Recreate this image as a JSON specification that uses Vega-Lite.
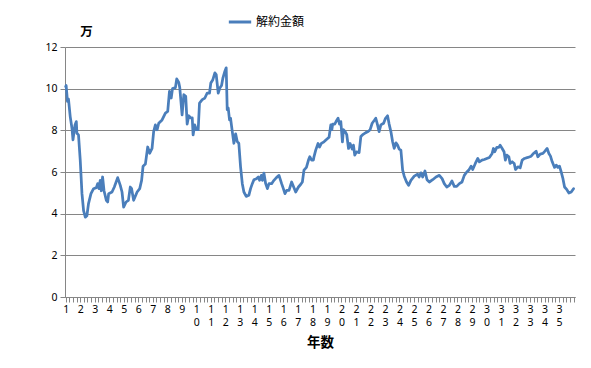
{
  "$schema": "https://vega.github.io/schema/vega-lite/v6.json",
  "width": 510,
  "height": 250,
  "autosize": "none",
  "padding": {"left": 65, "top": 47, "right": 16, "bottom": 71},
  "background": "#ffffff",
  "config": {
    "view": {"stroke": null},
    "axis": {"labelFont": "Noto Sans", "labelFontSize": 10.5, "labelColor": "#000000", "titleFont": "Noto Sans CJK JP", "titleFontWeight": "bold", "titleColor": "#000000"},
    "legend": {"labelFont": "Noto Sans CJK JP", "labelFontSize": 12, "labelColor": "#000000", "padding": 0}
  },
  "data": {"values": [
    {"year": 1.00, "value": 10.1}, {"year": 1.03, "value": 10.15}, {"year": 1.12, "value": 9.39}, {"year": 1.19, "value": 9.5},
    {"year": 1.31, "value": 8.66}, {"year": 1.43, "value": 8.1}, {"year": 1.50, "value": 7.54}, {"year": 1.64, "value": 8.26},
    {"year": 1.73, "value": 8.42}, {"year": 1.77, "value": 7.86}, {"year": 1.88, "value": 7.78}, {"year": 2.00, "value": 6.57},
    {"year": 2.12, "value": 4.96}, {"year": 2.23, "value": 4.15}, {"year": 2.35, "value": 3.83}, {"year": 2.46, "value": 3.9},
    {"year": 2.57, "value": 4.48}, {"year": 2.74, "value": 4.96}, {"year": 2.92, "value": 5.2}, {"year": 3.11, "value": 5.25},
    {"year": 3.20, "value": 5.44}, {"year": 3.29, "value": 5.2}, {"year": 3.38, "value": 5.6}, {"year": 3.45, "value": 5.1},
    {"year": 3.54, "value": 5.76}, {"year": 3.64, "value": 5.1}, {"year": 3.80, "value": 4.64}, {"year": 3.89, "value": 4.56},
    {"year": 3.96, "value": 4.96}, {"year": 4.19, "value": 5.04}, {"year": 4.35, "value": 5.28}, {"year": 4.58, "value": 5.73},
    {"year": 4.76, "value": 5.36}, {"year": 4.88, "value": 5.04}, {"year": 4.99, "value": 4.31}, {"year": 5.16, "value": 4.56},
    {"year": 5.32, "value": 4.64}, {"year": 5.45, "value": 5.28}, {"year": 5.54, "value": 5.2}, {"year": 5.68, "value": 4.64},
    {"year": 5.92, "value": 5.04}, {"year": 6.10, "value": 5.2}, {"year": 6.23, "value": 5.6}, {"year": 6.33, "value": 6.28},
    {"year": 6.49, "value": 6.38}, {"year": 6.65, "value": 7.2}, {"year": 6.79, "value": 6.9}, {"year": 6.95, "value": 7.13},
    {"year": 7.06, "value": 7.94}, {"year": 7.18, "value": 8.26}, {"year": 7.30, "value": 8.03}, {"year": 7.41, "value": 8.34},
    {"year": 7.64, "value": 8.5}, {"year": 7.87, "value": 8.83}, {"year": 8.03, "value": 8.91}, {"year": 8.15, "value": 9.87},
    {"year": 8.27, "value": 9.55}, {"year": 8.36, "value": 10.0}, {"year": 8.56, "value": 10.05}, {"year": 8.65, "value": 10.47},
    {"year": 8.79, "value": 10.3}, {"year": 8.86, "value": 10.05}, {"year": 9.02, "value": 8.74}, {"year": 9.14, "value": 9.71},
    {"year": 9.27, "value": 9.63}, {"year": 9.37, "value": 8.3}, {"year": 9.48, "value": 8.7}, {"year": 9.60, "value": 8.6},
    {"year": 9.72, "value": 8.6}, {"year": 9.78, "value": 7.78}, {"year": 9.89, "value": 8.26}, {"year": 10.01, "value": 8.03},
    {"year": 10.13, "value": 8.03}, {"year": 10.22, "value": 9.31}, {"year": 10.41, "value": 9.47}, {"year": 10.59, "value": 9.55},
    {"year": 10.75, "value": 9.79}, {"year": 10.91, "value": 9.79}, {"year": 11.00, "value": 10.27}, {"year": 11.14, "value": 10.43},
    {"year": 11.28, "value": 10.76}, {"year": 11.37, "value": 10.68}, {"year": 11.51, "value": 9.79}, {"year": 11.62, "value": 10.03},
    {"year": 11.74, "value": 10.15}, {"year": 11.83, "value": 10.5}, {"year": 11.97, "value": 10.84}, {"year": 12.06, "value": 11.0},
    {"year": 12.13, "value": 8.99}, {"year": 12.20, "value": 9.07}, {"year": 12.29, "value": 8.5}, {"year": 12.36, "value": 8.58},
    {"year": 12.48, "value": 7.94}, {"year": 12.59, "value": 7.38}, {"year": 12.71, "value": 7.83}, {"year": 12.82, "value": 7.46},
    {"year": 12.93, "value": 7.38}, {"year": 13.05, "value": 6.25}, {"year": 13.17, "value": 5.44}, {"year": 13.28, "value": 5.04},
    {"year": 13.44, "value": 4.83}, {"year": 13.62, "value": 4.88}, {"year": 13.74, "value": 5.2}, {"year": 13.86, "value": 5.44},
    {"year": 13.97, "value": 5.63}, {"year": 14.14, "value": 5.68}, {"year": 14.27, "value": 5.76}, {"year": 14.36, "value": 5.6},
    {"year": 14.48, "value": 5.84}, {"year": 14.55, "value": 5.6}, {"year": 14.66, "value": 5.95}, {"year": 14.78, "value": 5.44},
    {"year": 14.90, "value": 5.2}, {"year": 15.01, "value": 5.44}, {"year": 15.19, "value": 5.44}, {"year": 15.35, "value": 5.6},
    {"year": 15.52, "value": 5.73}, {"year": 15.70, "value": 5.84}, {"year": 15.88, "value": 5.44}, {"year": 16.00, "value": 5.2},
    {"year": 16.11, "value": 4.96}, {"year": 16.23, "value": 5.12}, {"year": 16.39, "value": 5.12}, {"year": 16.57, "value": 5.52},
    {"year": 16.71, "value": 5.28}, {"year": 16.85, "value": 5.04}, {"year": 17.04, "value": 5.28}, {"year": 17.19, "value": 5.4},
    {"year": 17.31, "value": 5.52}, {"year": 17.42, "value": 6.09}, {"year": 17.59, "value": 6.22}, {"year": 17.73, "value": 6.57},
    {"year": 17.82, "value": 6.73}, {"year": 17.95, "value": 6.57}, {"year": 18.07, "value": 6.57}, {"year": 18.11, "value": 6.73},
    {"year": 18.23, "value": 7.05}, {"year": 18.39, "value": 7.37}, {"year": 18.49, "value": 7.2}, {"year": 18.62, "value": 7.37},
    {"year": 18.80, "value": 7.45}, {"year": 18.99, "value": 7.57}, {"year": 19.15, "value": 7.67}, {"year": 19.27, "value": 8.26},
    {"year": 19.34, "value": 8.03}, {"year": 19.40, "value": 8.3}, {"year": 19.54, "value": 8.3}, {"year": 19.63, "value": 8.42},
    {"year": 19.77, "value": 8.58}, {"year": 19.87, "value": 8.3}, {"year": 19.96, "value": 8.42}, {"year": 20.07, "value": 7.45},
    {"year": 20.14, "value": 8.03}, {"year": 20.25, "value": 7.95}, {"year": 20.37, "value": 7.79}, {"year": 20.49, "value": 7.13},
    {"year": 20.60, "value": 7.37}, {"year": 20.74, "value": 7.1}, {"year": 20.83, "value": 7.29}, {"year": 20.92, "value": 6.81},
    {"year": 21.04, "value": 6.97}, {"year": 21.22, "value": 6.93}, {"year": 21.34, "value": 7.7}, {"year": 21.50, "value": 7.81},
    {"year": 21.68, "value": 7.89}, {"year": 21.84, "value": 7.94}, {"year": 21.98, "value": 8.03}, {"year": 22.12, "value": 8.34},
    {"year": 22.26, "value": 8.47}, {"year": 22.37, "value": 8.58}, {"year": 22.49, "value": 8.26}, {"year": 22.60, "value": 7.94},
    {"year": 22.72, "value": 8.26}, {"year": 22.91, "value": 8.34}, {"year": 23.04, "value": 8.58}, {"year": 23.18, "value": 8.7},
    {"year": 23.29, "value": 8.3}, {"year": 23.41, "value": 7.94}, {"year": 23.53, "value": 7.45}, {"year": 23.64, "value": 7.13},
    {"year": 23.76, "value": 7.4}, {"year": 23.87, "value": 7.29}, {"year": 23.98, "value": 7.1}, {"year": 24.10, "value": 7.05},
    {"year": 24.22, "value": 6.09}, {"year": 24.33, "value": 5.8}, {"year": 24.49, "value": 5.52}, {"year": 24.63, "value": 5.36},
    {"year": 24.79, "value": 5.6}, {"year": 25.02, "value": 5.8}, {"year": 25.25, "value": 5.89}, {"year": 25.36, "value": 5.76},
    {"year": 25.48, "value": 5.96}, {"year": 25.60, "value": 5.76}, {"year": 25.76, "value": 6.05}, {"year": 25.90, "value": 5.63},
    {"year": 26.06, "value": 5.52}, {"year": 26.29, "value": 5.63}, {"year": 26.52, "value": 5.76}, {"year": 26.75, "value": 5.84},
    {"year": 26.94, "value": 5.68}, {"year": 27.09, "value": 5.44}, {"year": 27.26, "value": 5.28}, {"year": 27.44, "value": 5.36},
    {"year": 27.62, "value": 5.57}, {"year": 27.78, "value": 5.31}, {"year": 27.95, "value": 5.31}, {"year": 28.13, "value": 5.44},
    {"year": 28.31, "value": 5.52}, {"year": 28.47, "value": 5.84}, {"year": 28.64, "value": 6.0}, {"year": 28.78, "value": 6.09},
    {"year": 28.94, "value": 6.28}, {"year": 29.05, "value": 6.12}, {"year": 29.23, "value": 6.41}, {"year": 29.40, "value": 6.65},
    {"year": 29.51, "value": 6.49}, {"year": 29.69, "value": 6.57}, {"year": 29.85, "value": 6.6}, {"year": 30.02, "value": 6.65},
    {"year": 30.20, "value": 6.7}, {"year": 30.39, "value": 6.89}, {"year": 30.48, "value": 7.13}, {"year": 30.57, "value": 6.97},
    {"year": 30.71, "value": 7.18}, {"year": 30.85, "value": 7.18}, {"year": 30.94, "value": 7.29}, {"year": 31.08, "value": 7.13},
    {"year": 31.21, "value": 6.97}, {"year": 31.30, "value": 6.57}, {"year": 31.40, "value": 6.81}, {"year": 31.54, "value": 6.73},
    {"year": 31.63, "value": 6.41}, {"year": 31.77, "value": 6.49}, {"year": 31.91, "value": 6.41}, {"year": 32.00, "value": 6.12},
    {"year": 32.16, "value": 6.25}, {"year": 32.32, "value": 6.2}, {"year": 32.46, "value": 6.57}, {"year": 32.62, "value": 6.65},
    {"year": 32.85, "value": 6.7}, {"year": 33.08, "value": 6.76}, {"year": 33.24, "value": 6.89}, {"year": 33.42, "value": 7.0},
    {"year": 33.54, "value": 6.73}, {"year": 33.70, "value": 6.86}, {"year": 33.89, "value": 6.89}, {"year": 34.03, "value": 7.0},
    {"year": 34.18, "value": 7.13}, {"year": 34.30, "value": 6.89}, {"year": 34.41, "value": 6.76}, {"year": 34.53, "value": 6.49},
    {"year": 34.69, "value": 6.22}, {"year": 34.81, "value": 6.33}, {"year": 34.92, "value": 6.22}, {"year": 35.03, "value": 6.28},
    {"year": 35.15, "value": 6.0}, {"year": 35.27, "value": 5.68}, {"year": 35.38, "value": 5.28}, {"year": 35.54, "value": 5.15},
    {"year": 35.68, "value": 4.99}, {"year": 35.84, "value": 5.04}, {"year": 36.00, "value": 5.2}
  ]},
  "mark": {"type": "line", "strokeWidth": 2.75, "strokeJoin": "round", "strokeCap": "round"},
  "encoding": {
    "x": {
      "field": "year", "type": "quantitative",
      "scale": {"domain": [0.95, 36.1], "nice": false, "zero": false},
      "axis": {
        "title": "年数", "titleFontSize": 13.5, "titleBaseline": "middle", "titleY": 45,
        "domainColor": "#868686", "tickColor": "#868686", "tickSize": 5, "grid": false,
        "labelOverlap": false, "labelFlush": false, "labelBound": false, "labelPadding": 2, "labelLineHeight": 13.7,
        "labelExpr": "(datum.value % 1 != 0 || datum.value > 35) ? '' : (datum.value >= 10 ? [toString(floor(datum.value / 10)), toString(datum.value % 10)] : toString(datum.value))",
        "values": [1,1.25,1.5,1.75,2,2.25,2.5,2.75,3,3.25,3.5,3.75,4,4.25,4.5,4.75,5,5.25,5.5,5.75,6,6.25,6.5,6.75,7,7.25,7.5,7.75,8,8.25,8.5,8.75,9,9.25,9.5,9.75,10,10.25,10.5,10.75,11,11.25,11.5,11.75,12,12.25,12.5,12.75,13,13.25,13.5,13.75,14,14.25,14.5,14.75,15,15.25,15.5,15.75,16,16.25,16.5,16.75,17,17.25,17.5,17.75,18,18.25,18.5,18.75,19,19.25,19.5,19.75,20,20.25,20.5,20.75,21,21.25,21.5,21.75,22,22.25,22.5,22.75,23,23.25,23.5,23.75,24,24.25,24.5,24.75,25,25.25,25.5,25.75,26,26.25,26.5,26.75,27,27.25,27.5,27.75,28,28.25,28.5,28.75,29,29.25,29.5,29.75,30,30.25,30.5,30.75,31,31.25,31.5,31.75,32,32.25,32.5,32.75,33,33.25,33.5,33.75,34,34.25,34.5,34.75,35,35.25,35.5,35.75,36]
      }
    },
    "y": {
      "field": "value", "type": "quantitative",
      "scale": {"domain": [0, 12], "nice": false},
      "axis": {
        "title": "万", "titleAngle": 0, "titleFontSize": 12.5, "titleX": 21, "titleY": -16, "titleAlign": "center", "titleBaseline": "middle",
        "values": [0, 2, 4, 6, 8, 10, 12],
        "domainColor": "#868686", "tickColor": "#868686", "tickSize": 5,
        "gridColor": "#868686", "gridWidth": 1, "labelPadding": 3
      }
    },
    "color": {
      "datum": "解約金額", "type": "nominal",
      "scale": {"range": ["#4a7ebb"]},
      "legend": {"title": null, "orient": "none", "legendX": 162, "legendY": -38, "symbolType": "stroke", "symbolSize": 500, "symbolStrokeWidth": 3, "labelOffset": 3}
    }
  }
}
